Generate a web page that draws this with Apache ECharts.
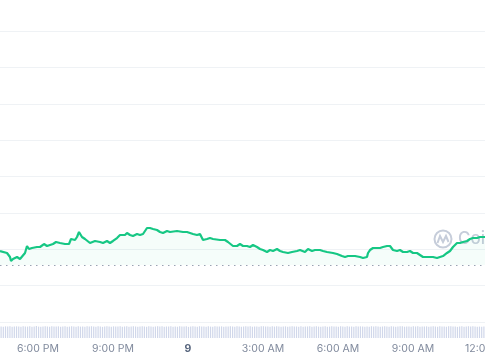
<!DOCTYPE html>
<html>
<head>
<meta charset="utf-8">
<script src="https://cdn.jsdelivr.net/npm/echarts@6/dist/echarts.min.js"></script>
<style>
html,body{margin:0;padding:0;background:#fff;}
#chart{width:485px;height:360px;}
</style>
</head>
<body>
<div id="chart"></div>
<script>
// time in decimal hours since midnight of day 8 (24 = midnight of day 9)
const times = [
16.48,16.76,16.88,16.92,17.00,17.16,17.28,17.36,17.48,17.56,17.64,17.76,17.96,18.08,18.24,18.36,18.60,18.72,18.88,19.08,
19.24,19.32,19.48,19.56,19.64,19.76,19.88,20.08,20.28,20.48,20.60,20.76,20.88,21.00,21.16,21.28,21.48,21.56,21.68,21.80,
21.96,22.08,22.20,22.28,22.36,22.48,22.60,22.76,22.88,23.00,23.16,23.28,23.56,23.80,23.88,23.96,24.08,24.20,24.36,24.48,
24.60,24.76,24.88,25.00,25.28,25.48,25.60,25.80,25.96,26.08,26.20,26.36,26.48,26.60,26.76,26.88,27.00,27.16,27.28,27.40,
27.56,27.68,27.80,28.00,28.16,28.36,28.48,28.56,28.68,28.80,28.96,29.08,29.28,29.40,29.56,29.80,29.96,30.16,30.28,30.40,
30.56,30.68,30.76,30.88,31.00,31.16,31.20,31.28,31.40,31.56,31.68,31.80,31.96,32.08,32.16,32.20,32.36,32.48,32.60,32.76,
32.88,33.00,33.16,33.28,33.40,33.56,33.68,33.80,33.96,34.08,34.20,34.36,34.48,34.60,34.76,34.88,35.00,35.16,35.28,35.40,
35.56,35.68,35.88
];
const prices = [
19.52,18.97,17.87,16.77,17.32,17.87,17.32,17.59,18.97,20.89,20.07,20.34,20.62,20.62,21.44,20.89,21.44,21.99,21.72,21.44,
21.44,22.82,22.54,23.37,24.74,23.37,22.82,21.72,22.27,21.99,21.72,22.27,21.72,22.27,23.09,23.92,23.92,24.47,23.92,23.64,
24.19,23.92,24.19,24.47,25.84,25.84,25.57,25.29,24.74,24.47,25.02,24.74,25.02,24.74,25.02,24.74,24.47,24.19,23.92,24.19,
22.54,22.82,23.09,22.82,22.54,22.54,21.99,20.89,20.89,21.44,20.89,20.89,20.62,21.17,20.62,20.07,19.79,19.24,19.79,19.52,
20.07,19.52,19.24,18.97,19.24,19.52,19.79,20.07,19.24,20.07,19.52,19.79,19.79,19.52,19.24,18.97,18.69,18.14,17.87,18.14,
18.14,18.14,17.87,17.87,17.59,17.87,18.97,19.79,20.34,20.34,20.34,20.62,20.89,20.89,20.62,19.79,19.52,19.79,19.24,19.24,
19.52,18.97,18.97,18.42,17.87,17.87,17.87,17.87,17.59,17.87,18.14,18.97,19.52,20.62,21.72,21.72,21.99,22.27,22.82,23.09,
23.09,23.37,23.37
];
const openPrice = 15.67;
const tickHours = [18, 21, 24, 27, 30, 33, 36];
const volumes = [
96,94,97,95,98,93,96,97,95,94,98,96,95,97,94,96,99,95,93,96,
97,95,94,98,96,95,97,93,96,98,94,95,97,96,94,98,95,96,93,97,
95,98,96,94,97,95,93,96,98,95,94,97,96,95,98,94,96,97,93,95,
98,96,94,95,97,96,93,98,95,94,96,97,95,98,94,96,95,97,93,96,
94,97,95,96,98,93,95,97,96,94,98,95,96,94,97,95,93,98,96,95,
97,94,96,95,98,96,93,97,95,94,96,98,95,97,94,96,95,93,97,98,
95,96,94,97,95,98,96,93,95,97,94,96,98,95,96,94,97,93,95,96,
98,94,96,97,95,93,96,98,94,95,97,96,95,94,98,96,93,97,95,96,
94,98,95,97,96,94,95,93,98,96,97,95,94,96,98,95,93,97,96,94,
95,97,98,94,96,95,93,97,96,98,94,95,96,97,93,95,98,96,94,97,
96,95,94,98,97,95,96,93,95,97,94,96,98,95,97,96,94,95,93,96
];

const chart = echarts.init(document.getElementById('chart'), null, {renderer: 'canvas'});
const X0 = 16.48, pxPerHour = 25, gridW = 510;

function fmtHour(v) {
  if (v === 24) return '{b|9}';
  const h = v % 24;
  const h12 = (h % 12) === 0 ? 12 : h % 12;
  return h12 + ':00 ' + (h < 12 ? 'AM' : 'PM');
}

chart.setOption({
  animation: false,
  backgroundColor: '#ffffff',
  grid: [
    {left: 0, right: -25, top: 31, bottom: 38, containLabel: false, outerBoundsMode: 'none'},
    {left: 0, right: 0, top: 326, height: 12, containLabel: false, outerBoundsMode: 'none'}
  ],
  xAxis: [
    {
      type: 'value', gridIndex: 0,
      min: X0, max: X0 + gridW / pxPerHour,
      axisLine: {show: false}, axisTick: {show: false}, splitLine: {show: false},
      axisLabel: {
        customValues: tickHours,
        formatter: fmtHour,
        margin: 21,
        color: '#808a9d', fontSize: 10.5, fontFamily: 'Inter',
        rich: {b: {fontWeight: 'bold', color: '#58667e', fontSize: 10.5, fontFamily: 'Inter'}}
      }
    },
    {
      type: 'category', gridIndex: 1,
      data: volumes.map((_, i) => i),
      axisLine: {show: false}, axisTick: {show: false}, axisLabel: {show: false}, splitLine: {show: false}
    }
  ],
  yAxis: [
    {
      type: 'value', gridIndex: 0, min: 0, max: 80, interval: 10,
      axisLine: {show: false}, axisTick: {show: false}, axisLabel: {show: false},
      splitLine: {show: true, lineStyle: {color: '#eff2f5', width: 1}}
    },
    {
      type: 'value', gridIndex: 1, min: 0, max: 100,
      axisLine: {show: false}, axisTick: {show: false}, axisLabel: {show: false}, splitLine: {show: false}
    }
  ],
  graphic: [
    {type: 'circle', shape: {cx: 443, cy: 239, r: 8.5}, style: {fill: 'none', stroke: '#c6cdda', lineWidth: 2}, z: 0},
    {type: 'polyline', shape: {points: [[437.5, 243], [440, 236], [443, 242], [446, 236], [448.5, 242]]}, style: {fill: 'none', stroke: '#c6cdda', lineWidth: 2}, z: 0},
    {type: 'text', x: 458, y: 230, style: {text: 'CoinMarketCap', fill: '#c6cdda', font: '500 17px Inter'}, z: 0}
  ],
  series: [
    {
      type: 'line', xAxisIndex: 0, yAxisIndex: 0,
      data: times.map((t, i) => [t, prices[i]]),
      showSymbol: false, symbol: 'none',
      lineStyle: {color: '#16c784', width: 2.2},
      areaStyle: {origin: openPrice, color: 'rgba(22,199,132,0.06)'},
      z: 3,
      markLine: {
        silent: true, symbol: 'none', label: {show: false},
        lineStyle: {type: [1.5, 4.5], color: '#9aa3b3', width: 1},
        data: [{yAxis: openPrice}]
      }
    },
    {
      type: 'bar', xAxisIndex: 1, yAxisIndex: 1,
      data: volumes,
      barWidth: 1.2,
      itemStyle: {color: '#d0d7ea'},
      z: 2
    }
  ]
});
</script>
</body>
</html>
